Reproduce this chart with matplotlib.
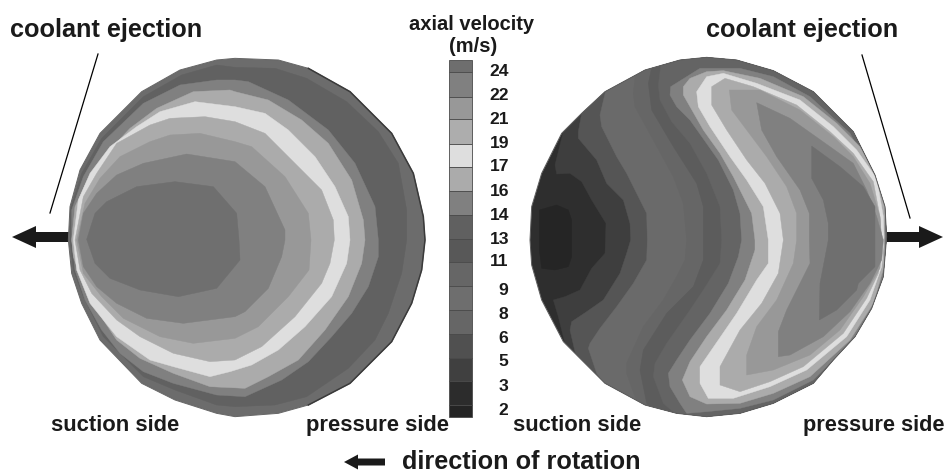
import matplotlib
matplotlib.use("Agg")
import matplotlib.pyplot as plt
from matplotlib.patches import Polygon

plt.rcParams["font.family"] = ["Liberation Sans", "DejaVu Sans"]
plt.rcParams["font.weight"] = "bold"

INK = "#1a1a1a"

# colour bar, top to bottom
bar_edges = [150, 187, 260, 328, 403, 472, 543, 616, 688, 757, 829, 901, 972, 1043, 1113, 1185, 1222]
bar_colors = ["#6e6e6e", "#808080", "#989898", "#adadad", "#dedede", "#ababab", "#808080", "#606060",
              "#585858", "#666666", "#6e6e6e", "#666666", "#505050", "#404040", "#2c2c2c", "#242424"]
bar_labels = ["24", "22", "21", "19", "17", "16", "14", "13", "11", "9", "8", "6", "5", "3", "2"]
bar_label_y = [185, 257, 328, 400, 470, 543, 615, 687, 755, 842, 912, 985, 1055, 1128, 1200]

# left disc, outer contour first
left_outline = [(705, 25), (835, 30), (925, 55), (1050, 125), (1175, 250), (1240, 370), (1270, 500), (1275, 570),
                (1265, 660), (1235, 760), (1175, 875), (1050, 1000), (925, 1065), (835, 1090), (705, 1100),
                (650, 1090), (525, 1050), (425, 1000), (300, 870), (245, 760), (215, 670), (205, 570),
                (210, 470), (240, 360), (300, 250), (425, 125), (540, 60), (650, 30)]
left_c1 = [(705, 52), (825, 55), (920, 85), (1040, 155), (1135, 245), (1195, 340), (1220, 480), (1220, 570),
           (1205, 670), (1165, 790), (1125, 870), (1045, 955), (920, 1040), (825, 1065), (705, 1070), (650, 1065),
           (525, 1020), (430, 980), (310, 860), (250, 740), (220, 660), (210, 570), (210, 480), (245, 370),
           (305, 265), (430, 140), (545, 75), (650, 45)]
left_c2 = [(705, 90), (745, 95), (865, 150), (985, 240), (1065, 340), (1125, 470), (1135, 570), (1135, 620),
           (1105, 710), (1055, 790), (995, 860), (925, 935), (845, 990), (735, 1040), (650, 1035), (520, 1000),
           (430, 965), (360, 910), (305, 840), (255, 750), (225, 660), (215, 570), (215, 480), (250, 380),
           (310, 275), (430, 160), (540, 105), (650, 90)]
left_c3 = [(705, 125), (805, 150), (905, 210), (985, 280), (1055, 390), (1090, 510), (1095, 570), (1085, 640),
           (1045, 740), (975, 840), (895, 930), (805, 980), (735, 1015), (630, 1010), (520, 970), (420, 925),
           (350, 870), (290, 780), (245, 690), (220, 620), (215, 570), (225, 470), (260, 395), (310, 320),
           (390, 235), (470, 175), (580, 125), (690, 120)]
left_c4 = [(585, 155), (705, 170), (795, 190), (865, 240), (945, 320), (1005, 410), (1045, 500), (1050, 570),
           (1040, 640), (995, 740), (915, 830), (835, 900), (755, 945), (690, 965), (630, 980), (520, 950),
           (450, 930), (350, 860), (270, 760), (230, 660), (220, 570), (235, 450), (270, 370), (330, 290),
           (410, 230), (480, 185)]
left_c5 = [(615, 200), (705, 215), (795, 250), (885, 340), (965, 420), (1000, 510), (1003, 570), (990, 640),
           (965, 700), (885, 800), (785, 890), (705, 930), (630, 935), (520, 910), (420, 860), (350, 810),
           (275, 730), (240, 660), (225, 570), (250, 440), (290, 370), (350, 280), (450, 225), (510, 205)]
left_c6 = [(510, 255), (600, 250), (705, 275), (755, 290), (855, 380), (925, 490), (933, 570), (927, 660),
           (865, 740), (775, 830), (705, 865), (580, 880), (480, 860), (370, 805), (305, 740), (250, 670),
           (230, 570), (255, 460), (300, 385), (360, 320), (450, 275)]
left_c7 = [(560, 312), (705, 335), (795, 410), (855, 540), (855, 570), (845, 620), (805, 715), (735, 785),
           (705, 800), (550, 820), (440, 805), (350, 760), (290, 710), (250, 650), (235, 570), (250, 490),
           (290, 430), (350, 375), (430, 340)]
left_c8 = [(525, 395), (640, 410), (710, 490), (717, 570), (720, 630), (650, 715), (535, 740), (420, 720),
           (330, 685), (285, 640), (260, 568), (285, 490), (320, 455), (410, 410)]
left_contours = [left_outline, left_c1, left_c2, left_c3, left_c4, left_c5, left_c6, left_c7, left_c8]
left_colors = ["#6c6c6c", "#616161", "#808080", "#ababab", "#dedede", "#ababab", "#989898", "#808080", "#6f6f6f"]

# right disc: the dark bands run rim to rim and are filled to the right of each curve
right_outline = [(560, 22), (650, 30), (760, 62), (880, 125), (1000, 245), (1065, 375), (1095, 470), (1100, 560),
                 (1090, 680), (1055, 775), (1005, 860), (940, 930), (880, 1000), (760, 1060), (660, 1090),
                 (560, 1100), (470, 1090), (375, 1065), (255, 1000), (130, 875), (65, 750), (35, 645), (30, 570),
                 (35, 470), (65, 370), (125, 250), (185, 190), (255, 125), (375, 60), (480, 30)]
right_core = [(58, 480), (110, 465), (145, 480), (155, 510), (155, 620), (145, 650), (105, 660), (65, 655), (58, 600)]
right_e1 = [(130, 245), (105, 345), (110, 372), (150, 370), (185, 395), (215, 450), (258, 520), (255, 610),
            (215, 655), (180, 720), (135, 740), (100, 750), (115, 800), (135, 880)]
right_e2 = [(185, 190), (175, 245), (175, 265), (230, 330), (260, 400), (310, 450), (330, 520), (332, 570),
            (320, 610), (300, 670), (250, 750), (200, 785), (155, 815), (150, 840), (165, 905), (180, 940)]
right_e3 = [(260, 110), (240, 195), (245, 230), (290, 320), (320, 370), (380, 490), (382, 570), (380, 630),
            (340, 700), (290, 770), (240, 835), (210, 880), (205, 895), (230, 970), (255, 1005)]
right_e4 = [(350, 50), (345, 85), (340, 130), (345, 170), (400, 270), (460, 380), (490, 460), (500, 570),
            (495, 630), (470, 680), (430, 750), (370, 830), (320, 940), (320, 970), (345, 1040), (360, 1070)]
right_e5 = [(400, 30), (385, 100), (395, 180), (460, 290), (530, 400), (550, 470), (550, 630), (520, 710),
            (440, 790), (370, 900), (360, 960), (380, 1060), (395, 1080)]
right_e6 = [(425, 25), (415, 105), (420, 150), (455, 215), (510, 280), (560, 370), (600, 470), (605, 570),
            (600, 640), (550, 720), (510, 780), (440, 880), (405, 940), (400, 980), (430, 1060), (470, 1095)]
right_dark_bands = [right_e1, right_e2, right_e3, right_e4, right_e5, right_e6]
right_dark_colors = ["#3e3e3e", "#555555", "#6a6a6a", "#666666", "#5c5c5c", "#646464"]

# right disc: closed bands, outer first
right_b1 = [(452, 110), (450, 135), (470, 170), (510, 210), (595, 330), (640, 420), (660, 490), (665, 570),
            (655, 620), (625, 700), (570, 790), (510, 870), (470, 930), (445, 970), (450, 1010), (480, 1060),
            (500, 1090), (560, 1085), (660, 1075), (760, 1050), (880, 990), (1000, 870), (1055, 775), (1090, 680),
            (1097, 560), (1095, 470), (1060, 380), (990, 250), (870, 140), (760, 80), (660, 55), (540, 55)]
right_b2 = [(490, 110), (490, 135), (510, 170), (550, 240), (600, 310), (640, 380), (695, 490), (705, 570),
            (705, 600), (675, 690), (620, 780), (560, 860), (510, 935), (487, 990), (510, 1040), (560, 1062),
            (660, 1060), (760, 1030), (870, 980), (990, 870), (1060, 760), (1092, 650), (1095, 460), (1075, 380),
            (1020, 290), (950, 220), (850, 140), (720, 85), (610, 62), (560, 65), (510, 85)]
right_b3 = [(530, 125), (535, 170), (570, 230), (630, 320), (680, 390), (730, 470), (745, 570), (745, 640),
            (710, 690), (650, 790), (540, 950), (540, 1000), (565, 1045), (640, 1045), (750, 1010), (860, 960),
            (980, 860), (1050, 750), (1085, 650), (1092, 560), (1090, 500), (1070, 385), (1010, 300), (940, 230),
            (840, 150), (710, 100), (610, 70), (560, 80)]
right_b4 = [(575, 110), (575, 165), (620, 240), (680, 330), (735, 400), (780, 490), (790, 570), (775, 670),
            (725, 760), (660, 840), (600, 950), (600, 1005), (660, 1025), (750, 995), (850, 950), (970, 850),
            (1040, 745), (1075, 670), (1085, 570), (1080, 500), (1060, 395), (1000, 310), (930, 245), (830, 165),
            (700, 110), (615, 85)]
right_b5 = [(628, 120), (635, 180), (680, 240), (740, 320), (800, 410), (830, 490), (830, 570), (820, 640),
            (770, 750), (710, 830), (680, 915), (680, 975), (760, 960), (870, 915), (960, 840), (1030, 740),
            (1080, 655), (1085, 570), (1080, 500), (1050, 400), (1000, 320), (940, 260), (840, 180), (720, 120)]
right_b6 = [(710, 158), (725, 240), (770, 320), (840, 420), (868, 490), (868, 570), (870, 640), (800, 780),
            (775, 845), (775, 920), (810, 915), (910, 860), (990, 785), (1050, 700), (1085, 630), (1090, 570),
            (1070, 500), (1040, 420), (1000, 340), (930, 290), (810, 205)]
right_b7 = [(875, 288), (875, 385), (910, 450), (925, 520), (925, 570), (900, 700), (898, 810), (950, 780),
            (1010, 720), (1015, 700), (1065, 650), (1065, 470), (1030, 410), (960, 350)]
right_bands = [right_b1, right_b2, right_b3, right_b4, right_b5, right_b6, right_b7]
right_band_colors = ["#808080", "#ababab", "#dedede", "#ababab", "#989898", "#808080", "#6f6f6f"]

W, H = 946, 473


def make_axes(fig, left, top, width, height, xlim, ylim):
    ax = fig.add_axes([left / W, 1 - (top + height) / H, width / W, height / H])
    ax.set_xlim(*xlim)
    ax.set_ylim(*ylim)
    ax.axis("off")
    return ax


def fill_band(ax, points, color, clip):
    patch = Polygon(points, closed=True, facecolor=color, edgecolor=color, lw=0.3)
    ax.add_patch(patch)
    patch.set_clip_path(clip)


# close a rim to rim curve round the outside of the disc
def close_right(curve):
    return curve + [(curve[-1][0], 1250), (1300, 1250), (1300, -100), (curve[0][0], -100)]


fig = plt.figure(figsize=(W / 100, H / 100), dpi=100)
page = make_axes(fig, 0, 0, W, H, (0, W), (H, 0))
left_ax = make_axes(fig, 0, 50, 430, 380, (0, 1290), (1140, 0))
right_ax = make_axes(fig, 520, 50, 426, 380, (0, 1278), (1140, 0))
bar_ax = make_axes(fig, 400, 10, 150, 420, (0, 450), (1260, 0))

left_clip = Polygon(left_outline, closed=True, transform=left_ax.transData)
for points, color in zip(left_contours, left_colors):
    fill_band(left_ax, points, color, left_clip)
left_ax.add_patch(Polygon(left_outline, closed=True, fill=False, edgecolor="#666666", lw=0.7))
# darker rim on the pressure side
rim = left_outline[2:13]
left_ax.plot([p[0] for p in rim], [p[1] for p in rim], color="#3a3a3a", lw=1.1)

right_clip = Polygon(right_outline, closed=True, transform=right_ax.transData)
fill_band(right_ax, right_outline, "#2e2e2e", right_clip)
fill_band(right_ax, right_core, "#252525", right_clip)
for curve, color in zip(right_dark_bands, right_dark_colors):
    fill_band(right_ax, close_right(curve), color, right_clip)
for points, color in zip(right_bands, right_band_colors):
    fill_band(right_ax, points, color, right_clip)
right_ax.add_patch(Polygon(right_outline, closed=True, fill=False, edgecolor="#5e5e5e", lw=0.7))

for i, color in enumerate(bar_colors):
    bar_ax.bar(182, bar_edges[i + 1] - bar_edges[i], width=70, bottom=bar_edges[i],
               color=color, edgecolor="#4a4a4a", lw=0.6)
for i, label in enumerate(bar_labels):
    x = 298 if len(label) == 2 else 309
    bar_ax.text(x, bar_label_y[i], label, ha="center", va="center", fontsize=12.6, color=INK)

page.text(106, 30, "coolant ejection", ha="center", va="center", fontsize=18.2, color=INK)
page.text(802, 30, "coolant ejection", ha="center", va="center", fontsize=18.2, color=INK)
page.text(472, 24, "axial velocity", ha="center", va="center", fontsize=14.5, color=INK)
page.text(473, 46, "(m/s)", ha="center", va="center", fontsize=14.5, color=INK)
page.text(115.5, 425, "suction side", ha="center", va="center", fontsize=15.8, color=INK)
page.text(377, 425, "pressure side", ha="center", va="center", fontsize=15.8, color=INK)
page.text(577.5, 425, "suction side", ha="center", va="center", fontsize=15.8, color=INK)
page.text(874, 425, "pressure side", ha="center", va="center", fontsize=15.7, color=INK)
page.text(521, 462, "direction of rotation", ha="center", va="center", fontsize=18.2, color=INK)

page.plot([98, 50], [54, 213], color="black", lw=0.9)
page.plot([862, 910], [55, 218], color="black", lw=0.9)
page.arrow(69, 237, -57, 0, width=10, head_width=22, head_length=24,
           length_includes_head=True, color=INK, lw=0)
page.arrow(886, 237, 57, 0, width=10, head_width=22, head_length=24,
           length_includes_head=True, color=INK, lw=0)
page.arrow(385, 462, -41, 0, width=7, head_width=15, head_length=14,
           length_includes_head=True, color=INK, lw=0)

fig.savefig("out.png", dpi=100, facecolor="white")
